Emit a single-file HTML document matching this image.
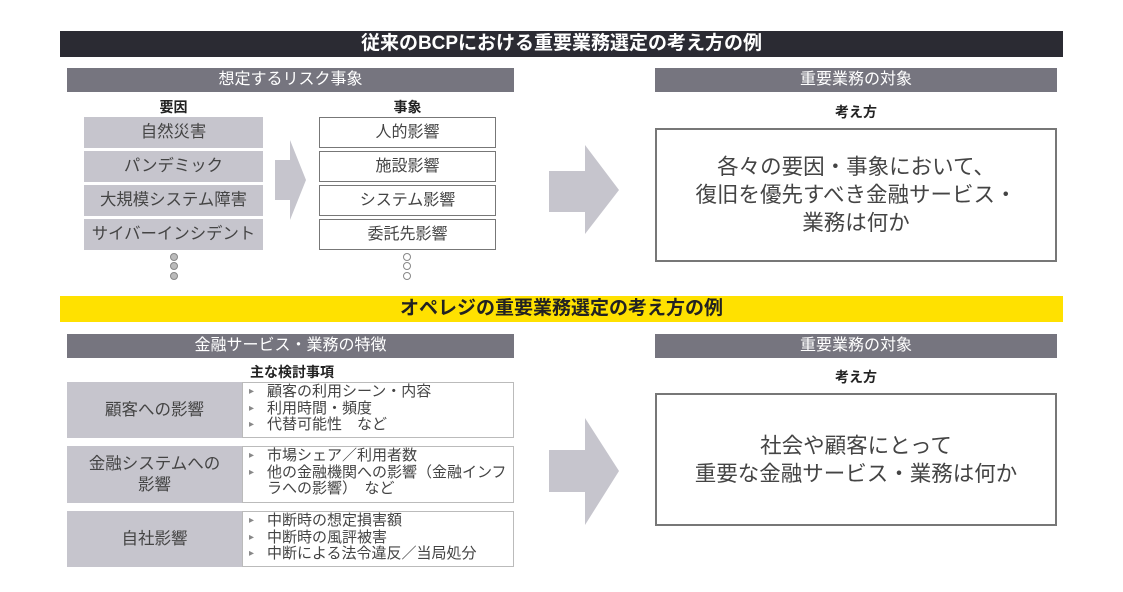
<!DOCTYPE html>
<html><head><meta charset="utf-8"><style>
body{margin:0;width:1123px;height:592px;background:#fff;position:relative;overflow:hidden;font-family:"Liberation Sans","Noto Sans CJK JP",sans-serif;color:#333}
div{position:absolute;box-sizing:border-box}
.bar{left:60px;width:1003px;height:26px;text-align:center;font-weight:bold;font-size:19px;line-height:26px}
.hd{background:#76757f;color:#fff;text-align:center;font-size:16px;line-height:24px;height:24px}
.g{background:#c6c5cd;left:84px;width:179px;height:31px;text-align:center;font-size:16.4px;line-height:31px;color:#444}
.w{border:1px solid #777;left:319px;width:177px;height:31px;text-align:center;font-size:16px;line-height:29px;color:#444}
.lbl{font-weight:bold;font-size:14px;text-align:center;color:#222}
.big{border:2px solid #777;left:655px;width:402px;text-align:center;font-size:21.5px;color:#444;display:flex;align-items:center;justify-content:center;line-height:28px}
.rl{left:67px;width:175px;background:#c6c5cd;font-size:16.5px;color:#444;display:flex;align-items:center;justify-content:center;text-align:center;line-height:21px}
.rr{left:242px;width:272px;border:1px solid #bbb;font-size:15px;color:#444;padding:1px 0 0 6px;line-height:16.5px;white-space:nowrap}
.rr span{display:block;padding-left:18px;position:relative}
.rr span.b:before{content:"▸";position:absolute;left:0;font-size:10px;color:#888}
.dot{width:8px;height:8px;border-radius:50%;border:1px solid #888}
</style></head><body>
<div class="bar" style="top:31px;background:#2b2b33;color:#fff">従来のBCPにおける重要業務選定の考え方の例</div>
<div class="hd" style="left:67px;width:447px;top:68px">想定するリスク事象</div>
<div class="lbl" style="left:84px;width:179px;top:97px">要因</div>
<div class="lbl" style="left:319px;width:177px;top:97px">事象</div>
<div class="g" style="top:117px">自然災害</div>
<div class="g" style="top:151px">パンデミック</div>
<div class="g" style="top:185px">大規模システム障害</div>
<div class="g" style="top:219px">サイバーインシデント</div>
<div class="w" style="top:117px">人的影響</div>
<div class="w" style="top:151px">施設影響</div>
<div class="w" style="top:185px">システム影響</div>
<div class="w" style="top:219px">委託先影響</div>
<div class="dot" style="left:170px;top:253px;background:#bbb"></div>
<div class="dot" style="left:170px;top:262px;background:#bbb"></div>
<div class="dot" style="left:170px;top:272px;background:#bbb"></div>
<div class="dot" style="left:403px;top:253px"></div>
<div class="dot" style="left:403px;top:262px"></div>
<div class="dot" style="left:403px;top:272px"></div>
<svg style="position:absolute;left:0;top:0" width="1123" height="592">
<polygon points="275,160 290,160 290,140 306,180 290,220 290,200 275,200" fill="#c6c5cd"/>
<polygon points="549,171 585,171 585,145 619,190 585,234 585,212 549,212" fill="#c6c5cd"/>
<polygon points="549,450 585,450 585,418 619,471 585,525 585,492 549,492" fill="#c6c5cd"/>
</svg>
<div class="hd" style="left:655px;width:402px;top:68px">重要業務の対象</div>
<div class="lbl" style="left:655px;width:402px;top:102px">考え方</div>
<div class="big" style="top:128px;height:134px">各々の要因・事象において、<br>復旧を優先すべき金融サービス・<br>業務は何か</div>
<div class="bar" style="top:296px;background:#ffe100;color:#222">オペレジの重要業務選定の考え方の例</div>
<div class="hd" style="left:67px;width:447px;top:334px">金融サービス・業務の特徴</div>
<div class="lbl" style="left:242px;width:100px;top:362px">主な検討事項</div>
<div class="rl" style="top:382px;height:56px">顧客への影響</div>
<div class="rr" style="top:382px;height:56px"><span class="b">顧客の利用シーン・内容</span><span class="b">利用時間・頻度</span><span class="b">代替可能性　など</span></div>
<div class="rl" style="top:446px;height:57px">金融システムへの<br>影響</div>
<div class="rr" style="top:446px;height:57px"><span class="b">市場シェア／利用者数</span><span class="b">他の金融機関への影響（金融インフ</span><span>ラへの影響）　など</span></div>
<div class="rl" style="top:511px;height:56px">自社影響</div>
<div class="rr" style="top:511px;height:56px"><span class="b">中断時の想定損害額</span><span class="b">中断時の風評被害</span><span class="b">中断による法令違反／当局処分</span></div>
<div class="hd" style="left:655px;width:402px;top:334px">重要業務の対象</div>
<div class="lbl" style="left:655px;width:402px;top:367px">考え方</div>
<div class="big" style="top:393px;height:133px">社会や顧客にとって<br>重要な金融サービス・業務は何か</div>
</body></html>
